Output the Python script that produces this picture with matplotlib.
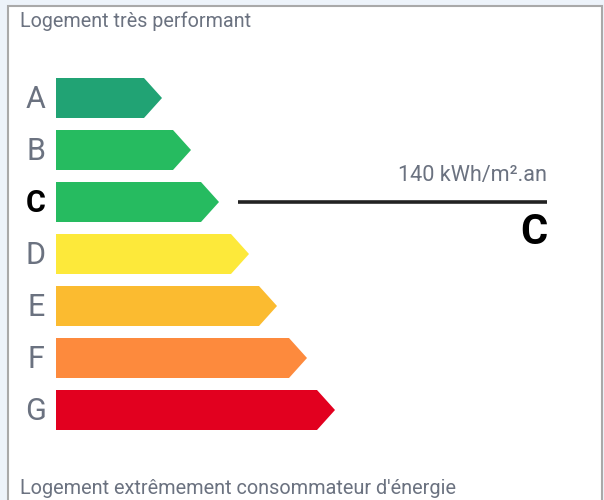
import matplotlib.pyplot as plt
from matplotlib.patches import Polygon, Rectangle

# DPE energy label data
classes = ['A', 'B', 'C', 'D', 'E', 'F', 'G']
bar_lengths = [106, 135, 163, 193, 221, 251, 279]
colors = ['#21a374', '#26bb60', '#26bb60', '#fde93a', '#fbbb30', '#fd8a3d', '#e2001f']
current_class = 'C'
consumption_label = '140 kWh/m².an'
top_label = 'Logement très performant'
bottom_label = "Logement extrêmement consommateur d'énergie"

plt.rcParams['font.family'] = ['Roboto', 'DejaVu Sans']

fig = plt.figure(figsize=(6.04, 5.0), dpi=100)
fig.patch.set_facecolor('#edf3fa')
ax = fig.add_axes([0, 0, 1, 1])
ax.set_xlim(0, 604)
ax.set_ylim(500, 0)
ax.axis('off')

# white card with gray border
ax.add_patch(Rectangle((7.5, 5.5), 594, 500, facecolor='white', edgecolor='#a9a9a9', lw=1.5))

gray = '#6b7280'
x0 = 56
bar_h = 40
tip = 18
for i, (cls, length, c) in enumerate(zip(classes, bar_lengths, colors)):
    top = 78 + i * 52
    mid = top + bar_h / 2
    pts = [(x0, top), (x0 + length - tip, top), (x0 + length, mid),
           (x0 + length - tip, top + bar_h), (x0, top + bar_h)]
    ax.add_patch(Polygon(pts, closed=True, facecolor=c, edgecolor='none'))
    if cls == current_class:
        ax.text(36, mid + 1, cls, ha='center', va='center', fontsize=22,
                fontweight='bold', color='black')
        # indicator line
        ly = mid
        ax.plot([238, 547], [ly, ly], color='#222222', lw=2.6, solid_capstyle='butt')
        ax.text(547, ly - 27, consumption_label, ha='right', va='center',
                fontsize=15.6, color=gray)
        ax.text(547, ly + 31, cls, ha='right', va='center', fontsize=30,
                fontweight='bold', color='black')
    else:
        ax.text(36, mid + 1, cls, ha='center', va='center', fontsize=22,
                color=gray)

ax.text(20, 21, top_label, ha='left', va='center', fontsize=14.2, color=gray)
ax.text(20, 488, bottom_label, ha='left', va='center', fontsize=14.3, color=gray)

fig.savefig('out.png', dpi=100, facecolor=fig.get_facecolor())
